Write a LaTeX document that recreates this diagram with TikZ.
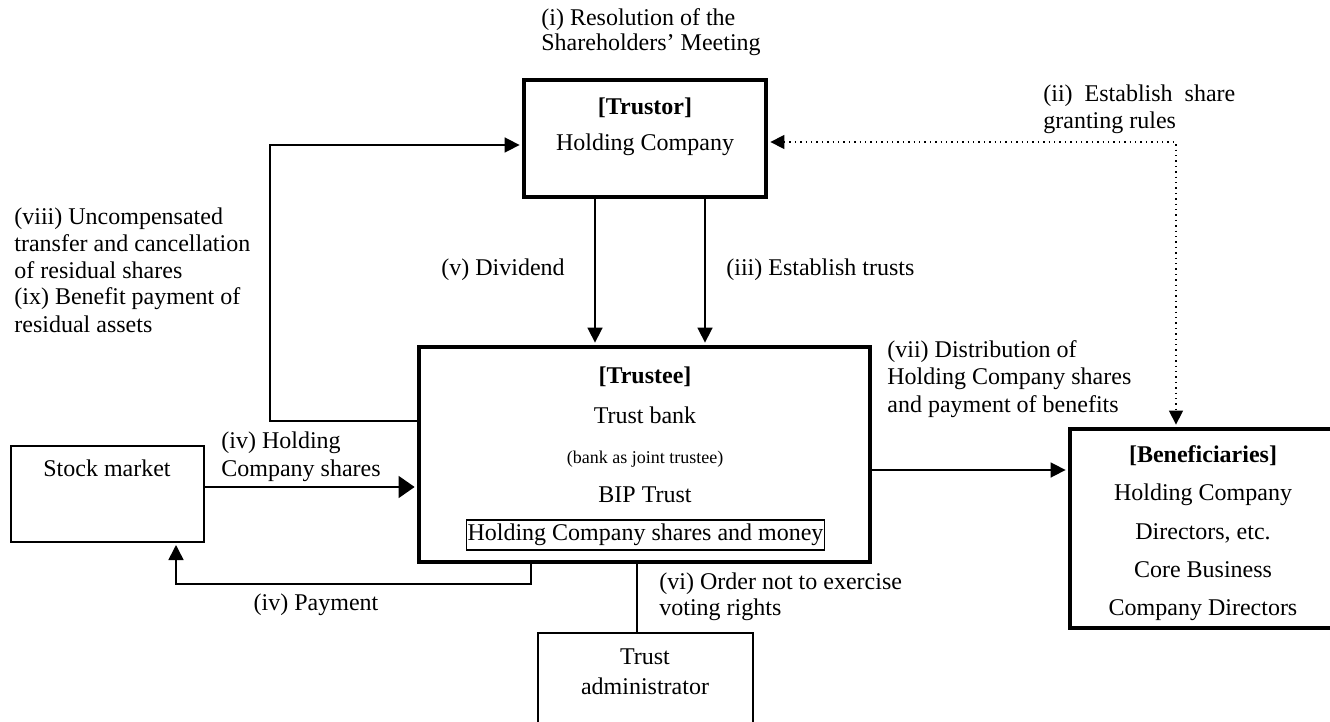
\documentclass[tikz,border=0pt]{standalone}
\usepackage{fontspec}
\setmainfont{Liberation Serif}
\usetikzlibrary{arrows.meta,calc}
\begin{document}
\begin{tikzpicture}[x=0.5pt,y=-0.5pt,
  bigbox/.style={draw, line width=2.4pt, rectangle, inner sep=0pt},
  smallbox/.style={draw, line width=1pt, rectangle, inner sep=0pt},
  txt/.style={inner sep=0pt, anchor=base, font=\fontsize{12}{13.75}\selectfont},
  lbl/.style={inner sep=0pt, align=left, anchor=base west},
  conn/.style={line width=0.8pt},
  arr/.style={conn, -{Triangle[length=7.5pt,width=7.5pt]}, shorten >=1pt},
  bigarr/.style={conn, -{Triangle[length=8pt,width=11pt]}, shorten >=1pt},
  dotarr/.style={line width=0.7pt, dotted, {Triangle[length=7pt,width=7pt]}-{Triangle[length=7pt,width=7pt]}, shorten >=1pt, shorten <=1pt}
]
\useasboundingbox (0,0) rectangle (1330,722);
\clip (0,0) rectangle (1330,722);

% boxes
\node[bigbox, minimum width=121pt, minimum height=58.5pt] (trustor) at (645,138.5) {};
\node[bigbox, minimum width=225.5pt, minimum height=107.5pt] (trustee) at (644.5,454.5) {};
\node[bigbox, minimum width=135pt, minimum height=99.5pt] (benef) at (1205,528.5) {};
\node[smallbox, minimum width=96.5pt, minimum height=48pt] (stock) at (107.5,494) {};
\node[smallbox, minimum width=107.5pt, minimum height=55pt] (admin) at (645.5,688) {};

% box texts
\node[txt] (trustorT) at (645,115) {\textbf{[Trustor]}};
\node[txt] (trustorS) at (645,151) {Holding Company};

\node[txt] (trusteeT) at (645,383) {\textbf{[Trustee]}};
\node[txt] (trusteeA) at (645,423) {Trust bank};
\node[txt, font=\fontsize{9}{10}\selectfont] (trusteeB) at (645,463) {(bank as joint trustee)};
\node[txt] (trusteeC) at (645,502) {BIP Trust};
\node[draw, line width=0.8pt, inner xsep=0.6pt, inner ysep=0pt, minimum height=15pt, font=\fontsize{12}{13.75}\selectfont] (assets) at (645.5,535) {Holding Company shares and money};

\node[txt] (benefT) at (1203,462) {\textbf{[Beneficiaries]}};
\node[txt] (benefA) at (1203,500) {Holding Company};
\node[txt] (benefB) at (1203,539) {Directors, etc.};
\node[txt] (benefC) at (1203,577) {Core Business};
\node[txt] (benefD) at (1203,615) {Company Directors};

\node[txt] (stockT) at (107,476) {Stock market};
\node[txt] (adminA) at (645,664) {Trust};
\node[txt] (adminB) at (645,694) {administrator};

% labels (base = baseline of last line)
\node[lbl, font=\fontsize{12}{12.5}\selectfont] (labI) at (541,51) {(i) Resolution of the\\Shareholders’ Meeting};
\node[lbl, font=\fontsize{12}{13.5}\selectfont] (labII) at (1043,129) {(ii)\ \ Establish\ \ share\\granting rules};
\node[lbl, font=\fontsize{12}{13.5}\selectfont] (labVIII) at (14,332) {(viii) Uncompensated\\transfer and cancellation\\of residual shares\\(ix) Benefit payment of\\residual assets};
\node[lbl, font=\fontsize{12}{13.75}\selectfont] (labV) at (441,276) {(v) Dividend};
\node[lbl, font=\fontsize{12}{13.75}\selectfont] (labIII) at (726,276) {(iii) Establish trusts};
\node[lbl, font=\fontsize{12}{13.75}\selectfont] (labVII) at (887,412) {(vii) Distribution of\\Holding Company shares\\and payment of benefits};
\node[lbl, font=\fontsize{12}{14}\selectfont] (labIV) at (221,476) {(iv) Holding\\Company shares};
\node[txt] (labPay) at (316,610) {(iv) Payment};
\node[lbl, font=\fontsize{12}{13}\selectfont] (labVI) at (659,615) {(vi) Order not to exercise\\voting rights};

% connectors
\coordinate (retA) at (270,421);
\coordinate (retB) at (270,145);
\draw[arr] (trustee.west |- retA) -- (retA) -- (retB) -- (trustor.west |- retB);

\coordinate (dotC) at (1176,142);
\draw[dotarr] (trustor.east |- dotC) -- (dotC) -- (benef.north -| dotC);

\coordinate (divX) at (595,0);
\draw[arr] (trustor.south -| divX) -- (trustee.north -| divX);
\coordinate (estX) at (705,0);
\draw[arr] (trustor.south -| estX) -- (trustee.north -| estX);

\coordinate (distY) at (950,470);
\draw[arr] (trustee.east |- distY) -- (benef.west |- distY);

\coordinate (buyY) at (300,487);
\draw[bigarr] (stock.east |- buyY) -- (trustee.west |- buyY);

\coordinate (payA) at (531,584);
\coordinate (payB) at (176,584);
\draw[arr] (trustee.south -| payA) -- (payA) -- (payB) -- (stock.south -| payB);

\coordinate (admX) at (637,0);
\draw[conn] (trustee.south -| admX) -- (admin.north -| admX);
\end{tikzpicture}
\end{document}
